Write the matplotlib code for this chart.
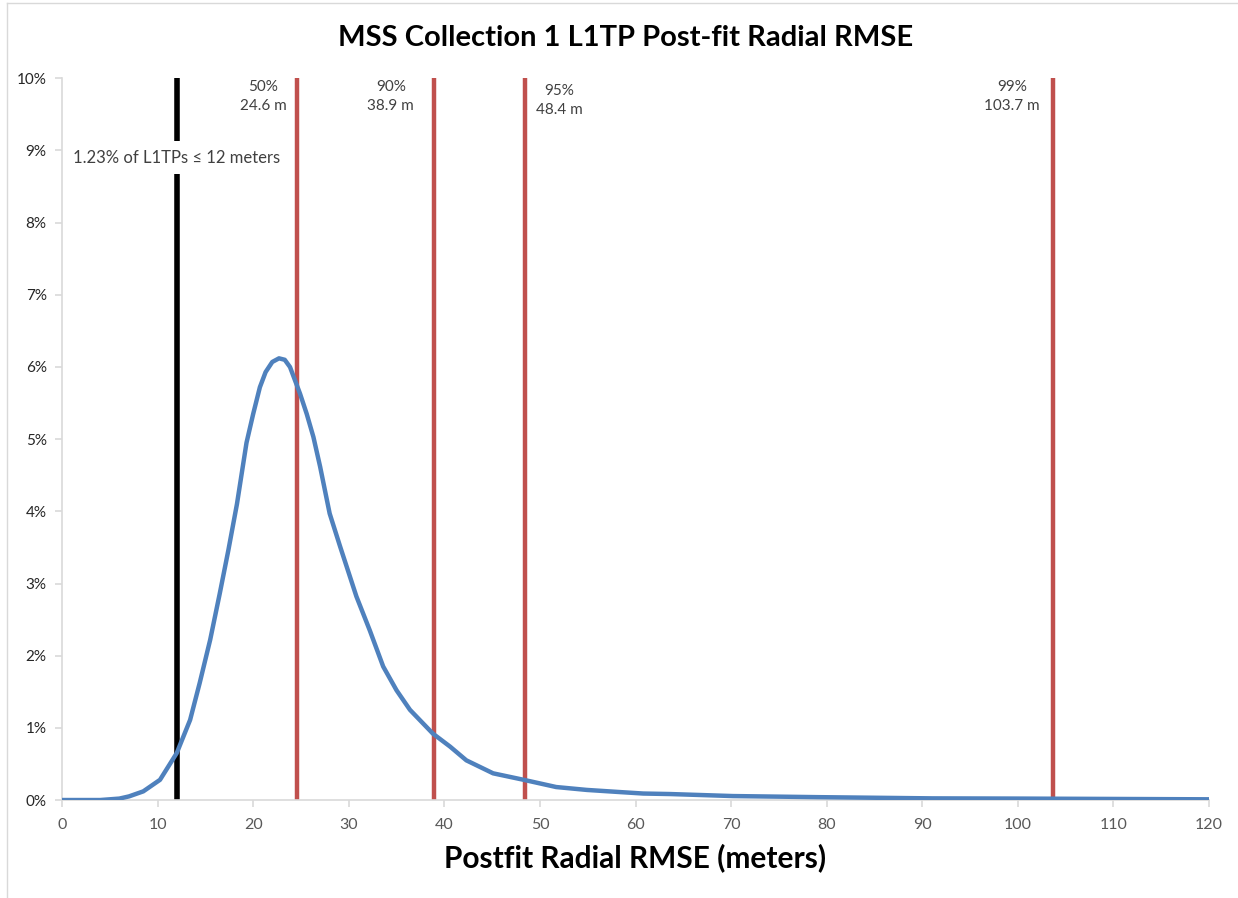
import matplotlib
matplotlib.use("Agg")
import matplotlib.pyplot as plt
from matplotlib.lines import Line2D
from matplotlib.ticker import FuncFormatter

# ---- data ----
rmse_m = [0, 2, 4, 5, 6, 7, 8.5, 10.25, 12.0, 13.4, 14.4, 15.5, 16.5, 17.4, 18.3, 19.3,
          20.0, 20.7, 21.3, 22.0, 22.7, 23.3, 23.85, 24.9, 25.6, 26.3, 27.0, 28.0, 29.1,
          30.8, 32.2, 33.6, 35.0, 36.4, 38.8, 40.6, 42.3, 45.1, 48.3, 51.7, 54.9, 58.4,
          60.8, 63.6, 70.2, 79, 91, 100, 110, 120]
pct_of_l1tps = [0, 0, 0, 0.01, 0.02, 0.05, 0.12, 0.28, 0.65, 1.11, 1.62, 2.22, 2.86, 3.46,
                4.1, 4.95, 5.35, 5.72, 5.93, 6.07, 6.12, 6.1, 6.0, 5.63, 5.35, 5.03, 4.62,
                3.97, 3.51, 2.82, 2.35, 1.85, 1.52, 1.25, 0.92, 0.74, 0.55, 0.37, 0.28,
                0.18, 0.14, 0.11, 0.09, 0.083, 0.055, 0.04, 0.023, 0.02, 0.015, 0.01]

threshold_m = 12
threshold_label = "1.23% of L1TPs \u2264 12 meters"
percentile_names = ["50%", "90%", "95%", "99%"]
percentile_values = [24.6, 38.9, 48.4, 103.7]

x_ticks = list(range(0, 121, 10))
y_ticks = list(range(0, 11, 1))

title = "MSS Collection 1 L1TP Post-fit Radial RMSE"
x_label = "Postfit Radial RMSE (meters)"

# ---- figure ----
plt.rcParams['font.family'] = ['Lato', 'DejaVu Sans']
fig = plt.figure(figsize=(12.38, 8.98), dpi=100)
ax = fig.add_axes([0.0501, 0.1091, 0.9265, 0.8037])

# border of the chart area
fig.add_artist(Line2D([7/1238, 7/1238], [0, 1 - 3/898], transform=fig.transFigure,
                      color='#d9d9d9', lw=1))
fig.add_artist(Line2D([7/1238, 1], [1 - 3/898, 1 - 3/898], transform=fig.transFigure,
                      color='#d9d9d9', lw=1))

# threshold line (black) and percentile lines (red)
ax.axvline(threshold_m, color='black', lw=4, zorder=2)
for v in percentile_values:
    ax.axvline(v, color='#C0504D', lw=3.2, zorder=2)

ax.plot(rmse_m, pct_of_l1tps, color='#4F81BD', lw=3.2, zorder=3,
        solid_capstyle='round', solid_joinstyle='round')

ax.text(threshold_m, 8.9, threshold_label, ha='center', va='center', fontsize=12,
        color='#404040', zorder=4,
        bbox=dict(facecolor='white', edgecolor='none', pad=6))

# percentile labels: offsets in points relative to the line
offsets = [(-24.5, 0), (-31, 0), (25, -3), (-29.5, 0)]
for name, v, (dx, dy) in zip(percentile_names, percentile_values, offsets):
    ax.annotate(f"{name}\n{v} m", xy=(v, 10), xytext=(dx, -1 + dy),
                textcoords='offset points', ha='center', va='top', fontsize=11,
                color='#404040', linespacing=1.5)

ax.set_xlim(0, 120)
ax.set_ylim(0, 10)
ax.set_xticks(x_ticks)
ax.set_yticks(y_ticks)
ax.yaxis.set_major_formatter(FuncFormatter(lambda v, p: f"{int(v)}%"))

for s in ['top', 'right']:
    ax.spines[s].set_visible(False)
for s in ['left', 'bottom']:
    ax.spines[s].set_color('#d9d9d9')
    ax.spines[s].set_linewidth(1.2)
ax.tick_params(axis='both', direction='out', length=5, width=1.2, color='#d9d9d9')
ax.tick_params(axis='x', labelsize=11.5, labelcolor='#595959', pad=8)
ax.tick_params(axis='y', labelsize=11, labelcolor='#262626', pad=6)

fig.text(0.505, 1 - 38/898, title, ha='center', va='center', fontsize=21,
         fontweight='bold', color='black')
fig.text(0.513, 1 - 858/898, x_label, ha='center', va='center', fontsize=21.5,
         fontweight='bold', color='black')

fig.savefig("out.png", dpi=100, facecolor='white')
